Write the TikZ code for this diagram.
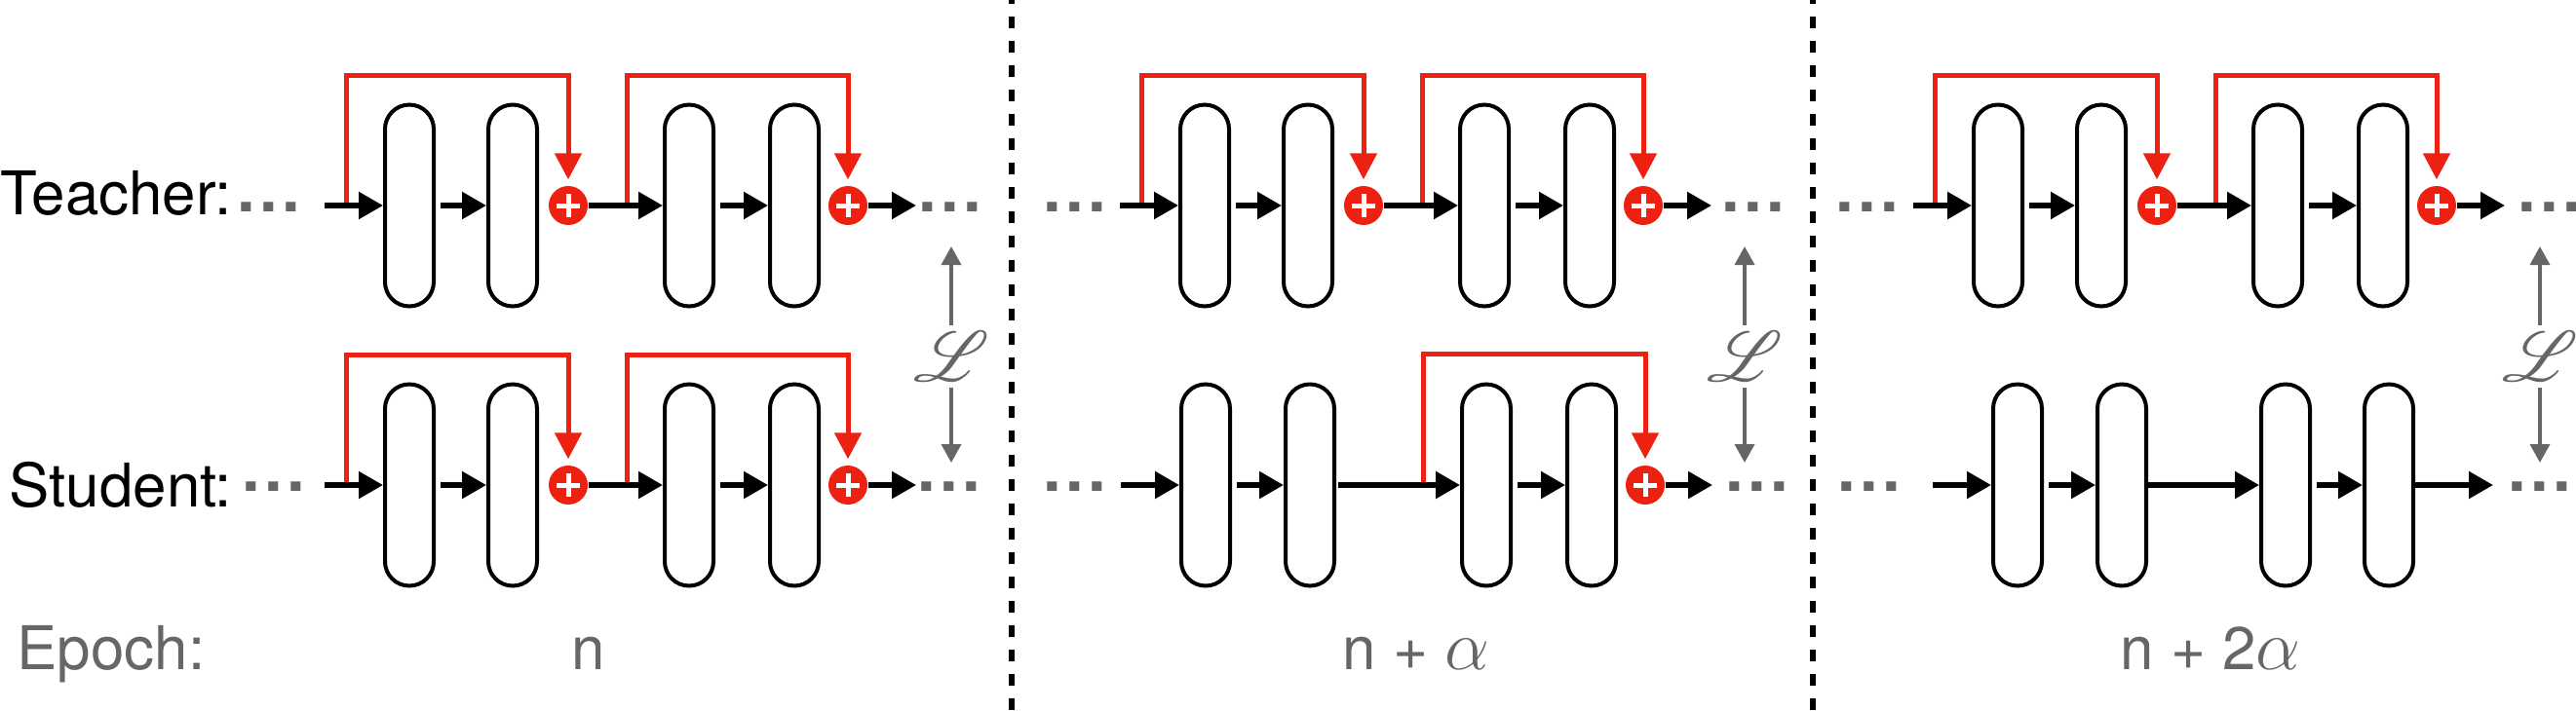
\documentclass[tikz,border=0pt]{standalone}
\usepackage{fontspec}
\setmainfont{TeX Gyre Heros}
\usepackage{mathrsfs}
\usepackage{xcolor}
\usetikzlibrary{arrows.meta}

\definecolor{skipred}{RGB}{237,33,17}
\definecolor{softgray}{RGB}{102,102,102}

\newcommand{\gap}{.\kern0.45mm.\kern0.45mm.}
\newcommand{\agr}{{\fontsize{20pt}{24pt}\selectfont$\alpha$}}

\tikzset{
    block/.style={draw, line width=0.4mm, rounded corners=2.5mm,
        minimum width=5mm, minimum height=20.7mm, inner sep=0pt},
    addop/.style={circle, fill=skipred, minimum size=4mm, inner sep=0pt,
        path picture={
            \draw[white, line width=0.5mm]
                ([xshift=-1.2mm]path picture bounding box.center) -- ([xshift=1.2mm]path picture bounding box.center);
            \draw[white, line width=0.5mm]
                ([yshift=-1.2mm]path picture bounding box.center) -- ([yshift=1.2mm]path picture bounding box.center);}},
    flow/.style={line width=0.55mm, -{Triangle[length=2.5mm, width=2.7mm]}},
    skiparrow/.style={skipred, line width=0.5mm, -{Triangle[length=2.7mm, width=2.7mm]}, shorten >=0.6mm},
    ellip/.style={softgray, font=\fontsize{19pt}{22pt}\selectfont\bfseries, anchor=base, inner sep=0pt},
    loss/.style={softgray, line width=0.35mm, -{Triangle[length=1.9mm, width=2mm]}},
    sep/.style={line width=0.6mm, dash pattern=on 1.2mm off 1.3mm, dash phase=0.83mm}
}

\begin{document}
\begin{tikzpicture}[font=\fontsize{17.6pt}{21pt}\selectfont]
    \useasboundingbox (0,0) rectangle (26.43,7.29);

    % epoch separators
    \draw[sep] (10.38,7.29) -- (10.38,0);
    \draw[sep] (18.60,7.29) -- (18.60,0);

    % row labels
    \node[anchor=base west, inner sep=0pt] (teacher) at (0,5.09) {Teacher:};
    \node[anchor=base west, inner sep=0pt] (student) at (0.09,2.09) {Student:};
    \node[anchor=base west, inner sep=0pt, softgray] (epoch) at (0.17,0.42) {Epoch:};
    \node[anchor=base, inner sep=0pt, softgray] (ep1) at (6.04,0.42) {n};
    \node[anchor=base, inner sep=0pt, softgray] (ep2) at (14.53,0.42) {n + \agr};
    \node[anchor=base, inner sep=0pt, softgray] (ep3) at (22.68,0.42) {n + 2\agr};

    % rows with both skip connections
    \foreach \n/\x/\y/\inx/\outx in {a/4.20/5.18/2.76/9.75, b/4.20/2.31/2.81/9.74,
                                     c/12.36/5.18/11.03/17.99, d/20.50/5.18/19.16/26.16} {
        \node[block] (\n b1) at (\x,\y) {};
        \node[block] (\n b2) at (\x+1.06,\y) {};
        \node[addop] (\n p1) at (\x+1.63,\y) {};
        \node[block] (\n b3) at (\x+2.87,\y) {};
        \node[block] (\n b4) at (\x+3.95,\y) {};
        \node[addop] (\n p2) at (\x+4.50,\y) {};
        \node[ellip] (\n in) at (\inx,\y-0.06) {\gap};
        \node[ellip] (\n out) at (\outx,\y-0.06) {\gap};
        \coordinate (\n a0) at (\x-0.87,\y);
        \coordinate (\n a9) at (\x+5.20,\y);
        \coordinate (\n s1) at (\x-0.65,\y+0.03);
        \coordinate (\n s2) at (\x+2.23,\y+0.03);
        \draw[flow] (\n a0) -- (\n b1);
        \draw[flow, shorten <=0.5mm] (\n b1) -- (\n b2);
        \draw[flow] (\n p1) -- (\n b3);
        \draw[flow, shorten <=0.5mm] (\n b3) -- (\n b4);
        \draw[flow] (\n p2) -- (\n a9);
        \draw[skiparrow] (\n s1) -- ++(0,1.31) -| (\n p1);
        \draw[skiparrow] (\n s2) -- ++(0,1.31) -| (\n p2);
    }

    % student, epoch n + alpha: first skip removed
    \node[block] (eb1) at (12.37,2.31) {};
    \node[block] (eb2) at (13.44,2.31) {};
    \node[block] (eb3) at (15.25,2.31) {};
    \node[block] (eb4) at (16.33,2.31) {};
    \node[addop] (ep2) at (16.88,2.31) {};
    \node[ellip] (ein) at (11.03,2.25) {\gap};
    \node[ellip] (eout) at (18.03,2.25) {\gap};
    \coordinate (ea0) at (11.50,2.31);
    \coordinate (ea9) at (17.57,2.31);
    \coordinate (es2) at (14.60,2.34);
    \draw[flow] (ea0) -- (eb1);
    \draw[flow, shorten <=0.5mm] (eb1) -- (eb2);
    \draw[flow, shorten <=0.2mm] (eb2) -- (eb3);
    \draw[flow, shorten <=0.5mm] (eb3) -- (eb4);
    \draw[flow] (ep2) -- (ea9);
    \draw[skiparrow] (es2) -- ++(0,1.32) -| (ep2);

    % student, epoch n + 2alpha: no skips
    \node[block] (fb1) at (20.70,2.31) {};
    \node[block] (fb2) at (21.77,2.31) {};
    \node[block] (fb3) at (23.45,2.31) {};
    \node[block] (fb4) at (24.51,2.31) {};
    \node[ellip] (fin) at (19.18,2.25) {\gap};
    \node[ellip] (fout) at (26.06,2.25) {\gap};
    \coordinate (fa0) at (19.83,2.31);
    \coordinate (fa9) at (25.58,2.31);
    \draw[flow] (fa0) -- (fb1);
    \draw[flow, shorten <=0.5mm] (fb1) -- (fb2);
    \draw[flow] (fb2) -- (fb3);
    \draw[flow, shorten <=0.5mm] (fb3) -- (fb4);
    \draw[flow] (fb4) -- (fa9);

    % distillation loss
    \foreach \k/\x in {1/9.76, 2/17.90, 3/26.06} {
        \node[softgray, inner sep=0.6mm, font=\fontsize{22pt}{26pt}\selectfont] (l\k) at (\x,3.63) {$\mathscr{L}$};
        \coordinate (l\k t) at (\x,4.76);
        \coordinate (l\k b) at (\x,2.54);
        \draw[loss] (l\k) -- (l\k t);
        \draw[loss] (l\k) -- (l\k b);
    }
\end{tikzpicture}
\end{document}
